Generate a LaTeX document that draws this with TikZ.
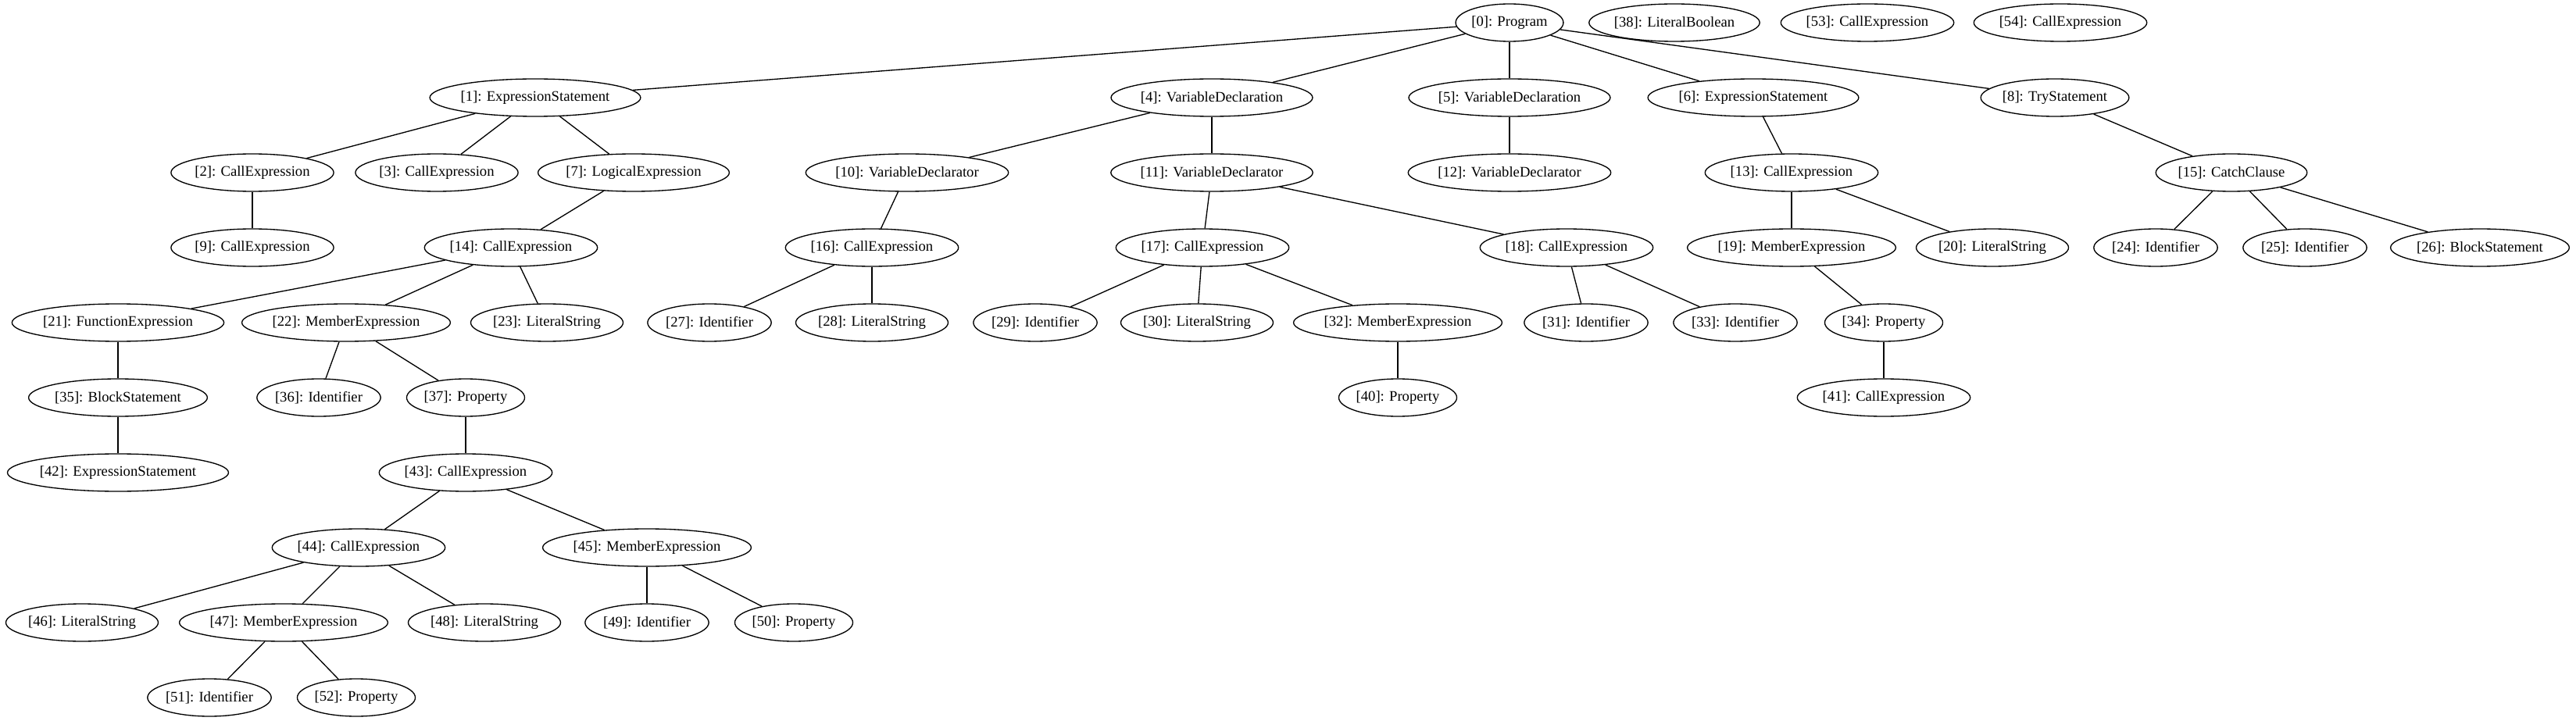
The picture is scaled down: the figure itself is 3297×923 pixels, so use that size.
\documentclass[tikz,border=0pt]{standalone}
\usepackage{fontspec}
\setmainfont{Liberation Serif}
\usetikzlibrary{shapes.geometric}
\newlength\gvw
\newcommand\gvfont{\fontsize{14pt}{16pt}\selectfont}
\newcommand\gvnode[3]{%
  \settowidth{\gvw}{\gvfont #3}%
  \pgfmathsetlengthmacro\gvmw{1.233*\gvw+24.4pt}%
  \node[gv, minimum width=\gvmw] (#1) at (#2) {#3};}
\tikzset{
  gv/.style={ellipse, draw=black, line width=1pt, inner xsep=0pt, inner ysep=0pt,
    minimum height=36pt, font=\gvfont},
  edge/.style={draw=black, line width=1pt}
}
\begin{document}
\begin{tikzpicture}[x=0.75pt,y=-0.75pt]
\useasboundingbox (0,0) rectangle (3297,923);
% row 0
\gvnode{n0}{1932,29}{[0]: Program}
\gvnode{n38}{2143,29}{[38]: LiteralBoolean}
\gvnode{n53}{2390,29}{[53]: CallExpression}
\gvnode{n54}{2637,29}{[54]: CallExpression}
% row 1
\gvnode{n1}{685,125}{[1]: ExpressionStatement}
\gvnode{n4}{1551,125}{[4]: VariableDeclaration}
\gvnode{n5}{1932,125}{[5]: VariableDeclaration}
\gvnode{n6}{2244,125}{[6]: ExpressionStatement}
\gvnode{n8}{2630,125}{[8]: TryStatement}
% row 2
\gvnode{n2}{323,221}{[2]: CallExpression}
\gvnode{n3}{559,221}{[3]: CallExpression}
\gvnode{n7}{811,221}{[7]: LogicalExpression}
\gvnode{n10}{1161,221}{[10]: VariableDeclarator}
\gvnode{n11}{1551,221}{[11]: VariableDeclarator}
\gvnode{n12}{1932,221}{[12]: VariableDeclarator}
\gvnode{n13}{2293,221}{[13]: CallExpression}
\gvnode{n15}{2856,221}{[15]: CatchClause}
% row 3
\gvnode{n9}{323,317}{[9]: CallExpression}
\gvnode{n14}{654,317}{[14]: CallExpression}
\gvnode{n16}{1116,317}{[16]: CallExpression}
\gvnode{n17}{1539,317}{[17]: CallExpression}
\gvnode{n18}{2005,317}{[18]: CallExpression}
\gvnode{n19}{2293,317}{[19]: MemberExpression}
\gvnode{n20}{2550,317}{[20]: LiteralString}
\gvnode{n24}{2759,317}{[24]: Identifier}
\gvnode{n25}{2950,317}{[25]: Identifier}
\gvnode{n26}{3174,317}{[26]: BlockStatement}
% row 4
\gvnode{n21}{151,413}{[21]: FunctionExpression}
\gvnode{n22}{443,413}{[22]: MemberExpression}
\gvnode{n23}{700,413}{[23]: LiteralString}
\gvnode{n27}{908,413}{[27]: Identifier}
\gvnode{n28}{1116,413}{[28]: LiteralString}
\gvnode{n29}{1325,413}{[29]: Identifier}
\gvnode{n30}{1532,413}{[30]: LiteralString}
\gvnode{n32}{1789,413}{[32]: MemberExpression}
\gvnode{n31}{2030,413}{[31]: Identifier}
\gvnode{n33}{2221,413}{[33]: Identifier}
\gvnode{n34}{2411,413}{[34]: Property}
% row 5
\gvnode{n35}{151,509}{[35]: BlockStatement}
\gvnode{n36}{408,509}{[36]: Identifier}
\gvnode{n37}{596,509}{[37]: Property}
\gvnode{n40}{1789,509}{[40]: Property}
\gvnode{n41}{2411,509}{[41]: CallExpression}
% row 6
\gvnode{n42}{151,605}{[42]: ExpressionStatement}
\gvnode{n43}{596,605}{[43]: CallExpression}
% row 7
\gvnode{n44}{459,701}{[44]: CallExpression}
\gvnode{n45}{828,701}{[45]: MemberExpression}
% row 8
\gvnode{n46}{105,797}{[46]: LiteralString}
\gvnode{n47}{363,797}{[47]: MemberExpression}
\gvnode{n48}{620,797}{[48]: LiteralString}
\gvnode{n49}{828,797}{[49]: Identifier}
\gvnode{n50}{1016,797}{[50]: Property}
% row 9
\gvnode{n51}{268,893}{[51]: Identifier}
\gvnode{n52}{456,893}{[52]: Property}
% edges
\foreach \a/\b in {n0/n1,n0/n4,n0/n5,n0/n6,n0/n8,
  n1/n2,n1/n3,n1/n7,n2/n9,n7/n14,
  n14/n21,n14/n22,n14/n23,n21/n35,n35/n42,
  n22/n36,n22/n37,n37/n43,n43/n44,n43/n45,
  n44/n46,n44/n47,n44/n48,n45/n49,n45/n50,n47/n51,n47/n52,
  n4/n10,n4/n11,n5/n12,n10/n16,n16/n27,n16/n28,
  n11/n17,n11/n18,n17/n29,n17/n30,n17/n32,n32/n40,
  n18/n31,n18/n33,n6/n13,n13/n19,n13/n20,n19/n34,n34/n41,
  n8/n15,n15/n24,n15/n25,n15/n26}
  \draw[edge] (\a) -- (\b);
\end{tikzpicture}
\end{document}
